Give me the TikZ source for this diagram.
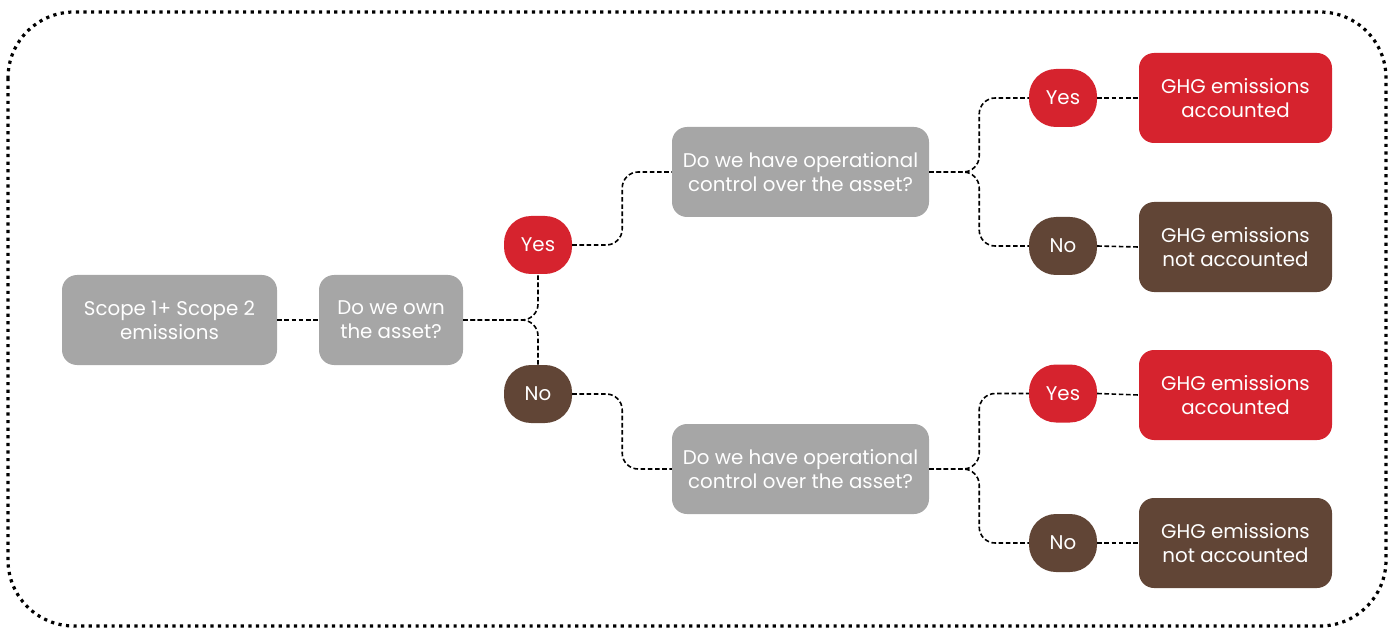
\documentclass[tikz,border=0pt]{standalone}
\usepackage{fontspec}
\setmainfont{Poppins}
\begin{document}
\begin{tikzpicture}[x=1pt,y=-1pt,
  every node/.style={font=\fontsize{19.8}{24}\selectfont, text=white, align=center, inner sep=0pt},
  graybox/.style={fill=boxgray, rounded corners=15pt},
  redbox/.style={fill=boxred, rounded corners=15pt, minimum width=193pt, minimum height=90pt},
  brownbox/.style={fill=boxbrown, rounded corners=15pt, minimum width=193pt, minimum height=90pt},
  yesnode/.style={fill=boxred, rounded corners=27pt, minimum width=68pt, minimum height=58pt},
  nonode/.style={fill=boxbrown, rounded corners=27pt, minimum width=68pt, minimum height=58pt},
  conn/.style={draw=black, line width=1.6pt, dash pattern=on 4.6pt off 2.6pt, rounded corners=16pt},
]
\definecolor{boxgray}{RGB}{166,166,166}
\definecolor{boxred}{RGB}{214,35,46}
\definecolor{boxbrown}{RGB}{97,69,54}
\useasboundingbox (0,0) rectangle (1394,628);
\draw[line width=3.2pt, dash pattern=on 3.2pt off 4.4pt, rounded corners=66pt] (8,12) rectangle (1386,626);

\node[graybox, minimum width=215pt, minimum height=90pt] (scope) at (169.5,320) {Scope 1+ Scope 2\\emissions};
\node[graybox, minimum width=144pt, minimum height=90pt] (own) at (391,320) {Do we own\\the asset?};
\node[yesnode] (yes1) at (538,245) {Yes};
\node[nonode] (no1) at (538,394) {No};
\node[graybox, minimum width=257pt, minimum height=90pt] (q1) at (800.5,172) {Do we have operational\\control over the asset?};
\node[graybox, minimum width=257pt, minimum height=90pt] (q2) at (800.5,469) {Do we have operational\\control over the asset?};
\node[yesnode] (yes2) at (1063,98) {Yes};
\node[nonode] (no2) at (1063,246) {No};
\node[yesnode] (yes3) at (1063,393.5) {Yes};
\node[nonode] (no3) at (1063,543) {No};
\node[redbox] (r1) at (1235.5,98) {GHG emissions\\accounted};
\node[brownbox] (r2) at (1235.5,247) {GHG emissions\\not accounted};
\node[redbox] (r3) at (1235.5,395) {GHG emissions\\accounted};
\node[brownbox] (r4) at (1235.5,543) {GHG emissions\\not accounted};

\draw[conn] (scope.east) -- (own.west);
\draw[conn] (own.east) -| (yes1.south);
\draw[conn] (own.east) -| (no1.north);
\draw[conn] (yes1.east) -- ++(50,0) |- (q1.west);
\draw[conn] (no1.east) -- ++(50,0) |- (q2.west);
\draw[conn] (q1.east) -- ++(50,0) |- (yes2.west);
\draw[conn] (q1.east) -- ++(50,0) |- (no2.west);
\draw[conn] (q2.east) -- ++(50,0) |- (yes3.west);
\draw[conn] (q2.east) -- ++(50,0) |- (no3.west);
\draw[conn] (yes2.east) -- (r1.west);
\draw[conn] (no2.east) -- (r2.west);
\draw[conn] (yes3.east) -- (r3.west);
\draw[conn] (no3.east) -- (r4.west);
\end{tikzpicture}
\end{document}
